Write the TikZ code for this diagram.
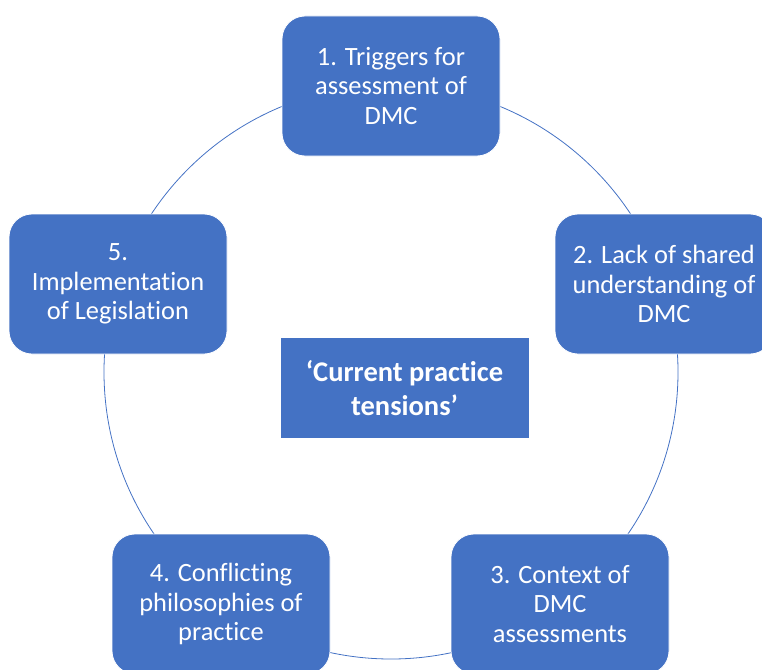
\documentclass[tikz,border=0pt]{standalone}
\usepackage{fontspec}
\setmainfont{Carlito}[Ligatures={NoCommon}]
\definecolor{accent}{HTML}{4472C4}
\begin{document}
\begin{tikzpicture}[x=1pt,y=-1pt,
  stepbox/.style={fill=accent, draw=white, line width=0.8pt, rounded corners=23pt,
    minimum width=218pt, minimum height=140pt, text=white, align=center,
    font=\fontsize{26.4}{29.5}\selectfont, inner sep=0pt},
  centerbox/.style={fill=accent, draw=white, line width=0.8pt,
    minimum width=249pt, minimum height=101pt, text=white, align=center,
    font=\fontsize{28.5}{34}\selectfont\bfseries, inner sep=0pt},
  ring/.style={draw=accent, line width=0.8pt}]
\path[use as bounding box] (0,0) rectangle (762,669);
\clip (0,0) rectangle (762,669);
\coordinate (ctr) at (391,372);
\draw[ring] (ctr) circle[radius=287pt];
\node[stepbox] (n1) at (391,86) {1. Triggers for\\assessment of\\DMC};
\node[stepbox] (n2) at (664,284) {2. Lack of shared\\understanding of\\DMC};
\node[stepbox] (n3) at (560,604) {3. Context of\\DMC\\assessments};
\node[stepbox] (n4) at (221,604) {4. Conflicting\\philosophies of\\practice};
\node[stepbox] (n5) at (118,284) {5.\\Implementation\\of Legislation};
\node[centerbox] (c) at (404.5,388) {‘Current practice\\tensions’};
\end{tikzpicture}
\end{document}
